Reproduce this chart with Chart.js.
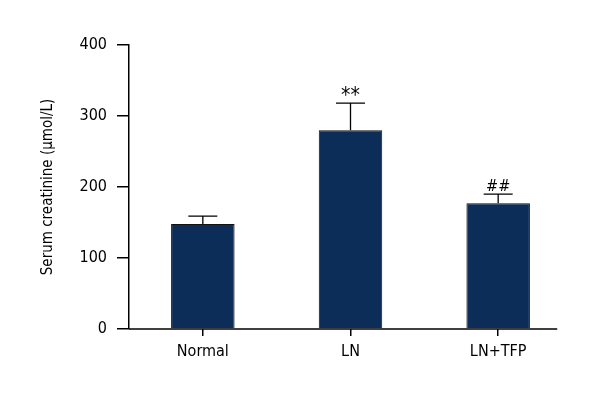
<!DOCTYPE html>
<html><head><meta charset="utf-8">
<script src="https://cdn.jsdelivr.net/npm/chart.js@4"></script>
<style>html,body{margin:0;padding:0;background:#fff}#wrap{width:600px;height:400px}</style>
</head><body><div id="wrap"><canvas id="c" width="600" height="400"></canvas></div>
<script>
const categories = ['Normal', 'LN', 'LN+TFP'];
const means = [148, 280, 177];
const sdUpper = [159, 318, 190];
const marks = ['', '**', '##'];
const yTicks = [0, 100, 200, 300, 400];

const FONT = '"DejaVu Sans Condensed", "Liberation Sans", sans-serif';

const extras = {
  id: 'extras',
  afterDatasetsDraw(chart) {
    const ctx = chart.ctx, x = chart.scales.x, y = chart.scales.y;
    ctx.save();
    ctx.strokeStyle = '#000'; ctx.lineWidth = 1.5;
    const y0 = y.getPixelForValue(0);
    const step = x.getPixelForValue(1) - x.getPixelForValue(0);
    ctx.beginPath();
    ctx.moveTo(chart.chartArea.left, y0);
    ctx.lineTo(x.getPixelForValue(categories.length - 1) + step * 0.4, y0);
    ctx.stroke();
    ctx.lineWidth = 1.3;
    means.forEach((m, i) => {
      const cx = x.getPixelForValue(i);
      const top = y.getPixelForValue(m), cap = y.getPixelForValue(sdUpper[i]);
      ctx.beginPath();
      ctx.moveTo(cx, top); ctx.lineTo(cx, cap);
      ctx.moveTo(cx - 14.5, cap); ctx.lineTo(cx + 14.5, cap);
      ctx.stroke();
      if (marks[i]) {
        ctx.fillStyle = '#000';
        ctx.textAlign = 'center'; ctx.textBaseline = 'alphabetic';
        if (marks[i].startsWith('*')) {
          ctx.font = '21px ' + FONT;
          ctx.fillText(marks[i], cx, cap - 1);
        } else {
          ctx.font = '16px ' + FONT;
          ctx.fillText(marks[i], cx, cap - 3);
        }
      }
    });
    ctx.restore();
  }
};

new Chart(document.getElementById('c'), {
  type: 'bar',
  data: {
    labels: categories,
    datasets: [{
      data: means,
      backgroundColor: '#0b2d58',
      borderColor: '#111',
      borderWidth: 1,
      barPercentage: 0.43,
      categoryPercentage: 1
    }]
  },
  options: {
    responsive: false,
    animation: false,
    layout: { padding: { left: 0, right: 28, top: 45, bottom: 0 } },
    plugins: { legend: { display: false }, tooltip: { enabled: false } },
    scales: {
      x: {
        offset: true,
        border: { display: false },
        grid: { display: true, offset: false, drawOnChartArea: false, drawTicks: true, tickLength: 7, color: '#000', lineWidth: 1.5 },
        ticks: { color: '#000', font: { family: FONT, size: 16 }, padding: 6 },
        afterFit: s => { s.height = 71; }
      },
      y: {
        min: 0, max: 400,
        border: { display: true, color: '#000', width: 1.5 },
        grid: { display: true, drawOnChartArea: false, tickLength: 12, color: '#000', lineWidth: 1.5 },
        ticks: { color: '#000', font: { family: FONT, size: 16 }, stepSize: 100, padding: 10,
                 callback: v => yTicks.includes(v) ? String(v) : '' },
        title: { display: true, text: 'Serum creatinine (μmol/L)', color: '#000', font: { family: FONT, size: 15 }, padding: { top: 39, bottom: 0 } },
        afterFit: s => { s.width = 129; }
      }
    }
  },
  plugins: [extras]
});
</script>
</body></html>
